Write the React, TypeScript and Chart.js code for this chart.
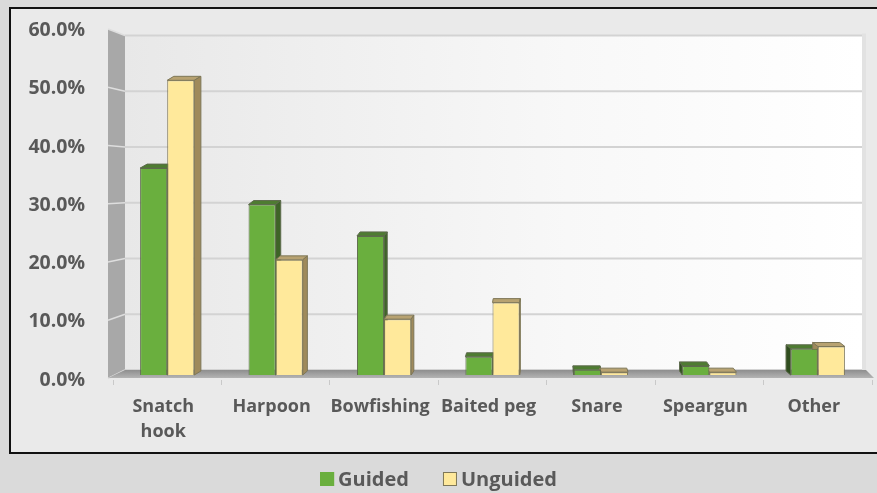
import { useEffect, useRef } from 'react';
import { Chart, registerables } from 'chart.js';

Chart.register(...registerables);

// ---- data ----
const categories: (string | string[])[] = [
  ['Snatch', 'hook'],
  'Harpoon',
  'Bowfishing',
  'Baited peg',
  'Snare',
  'Speargun',
  'Other',
];
const seriesNames = ['Guided', 'Unguided'];
const guided = [36.3, 29.9, 24.4, 3.2, 0.9, 1.6, 4.6];
const unguided = [51.7, 20.2, 9.8, 12.7, 0.5, 0.5, 5.0];
const yTicks = [0, 10, 20, 30, 40, 50, 60];

// ---- style ----
const W = 877;
const H = 493;
const FONT = "'Open Sans', sans-serif";
const TEXT = '#595959';
const fills = ['#6aaf3e', '#ffe99b'];
const borders = ['#5d6a4c', '#7e7758'];
const faces = [
  { top: '#4e7c31', side: '#3e6427' },
  { top: '#b7a271', side: '#9f8a5b' },
];

const scenePlugin = {
  id: 'scene3d',
  beforeDraw(chart: any) {
    const { ctx, chartArea: ca } = chart;
    const yS = chart.scales.y;
    const lS = chart.scales.y2;
    const backY = (v: number) => 2 * yS.getPixelForValue(v) - lS.getPixelForValue(v);
    ctx.save();
    ctx.fillStyle = '#dadada';
    ctx.fillRect(0, 0, W, H);
    ctx.fillStyle = '#eaeaea';
    ctx.fillRect(10, 8, W + 10, 445);
    ctx.strokeStyle = '#111111';
    ctx.lineWidth = 2;
    ctx.strokeRect(10, 8, W + 10, 445);

    const frontX = ca.left - 5;
    const backL = ca.left + 12;
    const backR = ca.right - 10;
    const top = backY(yTicks[yTicks.length - 1]);
    const bot = backY(0);
    const g = ctx.createLinearGradient(backL, 0, backR, 0);
    g.addColorStop(0, '#e8e8e8');
    g.addColorStop(0.6, '#f8f8f8');
    g.addColorStop(1, '#ffffff');
    ctx.fillStyle = g;
    ctx.fillRect(backL, top, backR - backL, bot - top);
    ctx.strokeStyle = '#d3d3d3';
    ctx.lineWidth = 2;
    yTicks.forEach((v) => {
      const y = backY(v);
      ctx.beginPath();
      ctx.moveTo(backL, y);
      ctx.lineTo(backR, y);
      ctx.stroke();
    });
    ctx.fillStyle = '#e2e2e2';
    ctx.fillRect(backR, top - 2, 4, bot - top + 2);
    ctx.fillStyle = '#a8a8a8';
    ctx.beginPath();
    ctx.moveTo(frontX, lS.getPixelForValue(60) - 1.5);
    ctx.lineTo(backL, top);
    ctx.lineTo(backL, bot);
    ctx.lineTo(frontX, lS.getPixelForValue(0) - 2);
    ctx.closePath();
    ctx.fill();
    ctx.strokeStyle = '#dedede';
    ctx.lineWidth = 1.5;
    yTicks.forEach((v) => {
      ctx.beginPath();
      ctx.moveTo(frontX, lS.getPixelForValue(v) - 1.5);
      ctx.lineTo(backL, backY(v));
      ctx.stroke();
    });
    const fy = lS.getPixelForValue(0) - 2;
    const fg = ctx.createLinearGradient(0, bot, 0, fy);
    fg.addColorStop(0, '#8e8e8e');
    fg.addColorStop(1, '#b4b4b4');
    ctx.fillStyle = fg;
    ctx.beginPath();
    ctx.moveTo(frontX, fy);
    ctx.lineTo(ca.right + 2, fy);
    ctx.lineTo(backR + 4, bot);
    ctx.lineTo(backL, bot);
    ctx.closePath();
    ctx.fill();
    ctx.restore();
  },
  beforeDatasetsDraw(chart: any) {
    const { ctx, chartArea: ca } = chart;
    const vp = ca.left + (ca.right - ca.left) * 0.57;
    const f = 0.018;
    const dy = -4;
    ctx.save();
    ctx.lineWidth = 1;
    chart.data.datasets.forEach((ds: any, di: number) => {
      const meta = chart.getDatasetMeta(di);
      meta.data.forEach((bar: any) => {
        const { x, y, base, width } = bar.getProps(['x', 'y', 'base', 'width'], true);
        const l = x - width / 2;
        const r = x + width / 2;
        const dx = (vp - x) * f;
        ctx.strokeStyle = borders[di];
        ctx.fillStyle = faces[di].top;
        ctx.beginPath();
        ctx.moveTo(l, y);
        ctx.lineTo(r, y);
        ctx.lineTo(r + dx, y + dy);
        ctx.lineTo(l + dx, y + dy);
        ctx.closePath();
        ctx.fill();
        ctx.stroke();
        const sx = dx > 0 ? r : l;
        ctx.fillStyle = dx > 0 ? faces[di].side : (di === 0 ? '#2f4d1e' : faces[di].side);
        ctx.beginPath();
        ctx.moveTo(sx, y);
        ctx.lineTo(sx + dx, y + dy);
        ctx.lineTo(sx + dx, base + dy);
        ctx.lineTo(sx, base);
        ctx.closePath();
        ctx.fill();
        ctx.stroke();
      });
    });
    ctx.restore();
  },
  afterDraw(chart: any) {
    const { ctx } = chart;
    ctx.save();
    ctx.font = `bold 20px ${FONT}`;
    ctx.textBaseline = 'middle';
    const box = 14;
    const gap = 4;
    const itemGap = 34;
    const widths = chart.data.datasets.map((d: any) => ctx.measureText(d.label).width);
    const total = widths.reduce((a: number, w: number) => a + box + gap + w, 0) + itemGap * (widths.length - 1);
    let x = W / 2 - total / 2;
    const cy = 479;
    chart.data.datasets.forEach((d: any, i: number) => {
      ctx.fillStyle = d.backgroundColor;
      ctx.fillRect(x, cy - box / 2, box, box);
      ctx.strokeStyle = i === 0 ? d.backgroundColor : d.borderColor;
      ctx.lineWidth = 1;
      ctx.strokeRect(x + 0.5, cy - box / 2 + 0.5, box - 1, box - 1);
      ctx.fillStyle = TEXT;
      ctx.fillText(d.label, x + box + gap, cy + 1);
      x += box + gap + widths[i] + itemGap;
    });
    ctx.restore();
  },
};

export default function App() {
  const ref = useRef<HTMLCanvasElement | null>(null);
  useEffect(() => {
    if (!ref.current) return;
    const chart = new Chart(ref.current, {
      type: 'bar',
      data: {
        labels: categories,
        datasets: [
          {
            label: seriesNames[0],
            data: guided,
            backgroundColor: fills[0],
            borderColor: borders[0],
            borderWidth: 1,
            categoryPercentage: 0.5,
            barPercentage: 1.0,
          },
          {
            label: seriesNames[1],
            data: unguided,
            backgroundColor: fills[1],
            borderColor: borders[1],
            borderWidth: 1,
            categoryPercentage: 0.5,
            barPercentage: 1.0,
          },
        ],
      },
      options: {
        animation: false,
        responsive: false,
        devicePixelRatio: 1,
        layout: { autoPadding: false, padding: { top: 30.5, right: 5, bottom: 0, left: 0 } },
        plugins: {
          legend: { display: false },
          tooltip: { enabled: false },
        },
        scales: {
          x: {
            grid: {
              drawOnChartArea: false,
              drawTicks: true,
              tickLength: 5,
              color: '#c9c9c9',
              offset: true,
            },
            border: { display: false },
            ticks: {
              color: TEXT,
              font: { family: FONT, size: 18, weight: 'bold', lineHeight: 1.35 },
              padding: 10,
              labelOffset: -4,
              maxRotation: 0,
              autoSkip: false,
            },
            afterFit: (s: any) => {
              s.height = 113;
            },
          },
          y: {
            display: false,
            min: -0.877,
            max: 60.44,
          },
          y2: {
            position: 'left',
            min: 0,
            max: 60,
            grid: { display: false, drawTicks: false },
            border: { display: false },
            ticks: {
              stepSize: 10,
              color: TEXT,
              padding: 28,
              font: { family: FONT, size: 19.5, weight: 'bold' },
              callback: (v: any) => Number(v).toFixed(1) + '%',
            },
            afterFit: (s: any) => {
              s.width = 113;
              s.paddingTop = 0;
              s.paddingBottom = 0;
            },
          },
        },
      },
      plugins: [scenePlugin],
    });
    return () => chart.destroy();
  }, []);
  return (
    <div style={{ position: 'absolute', left: 0, top: 0, width: W, height: H }}>
      <canvas ref={ref} width={W} height={H} style={{ display: 'block' }} />
    </div>
  );
}
